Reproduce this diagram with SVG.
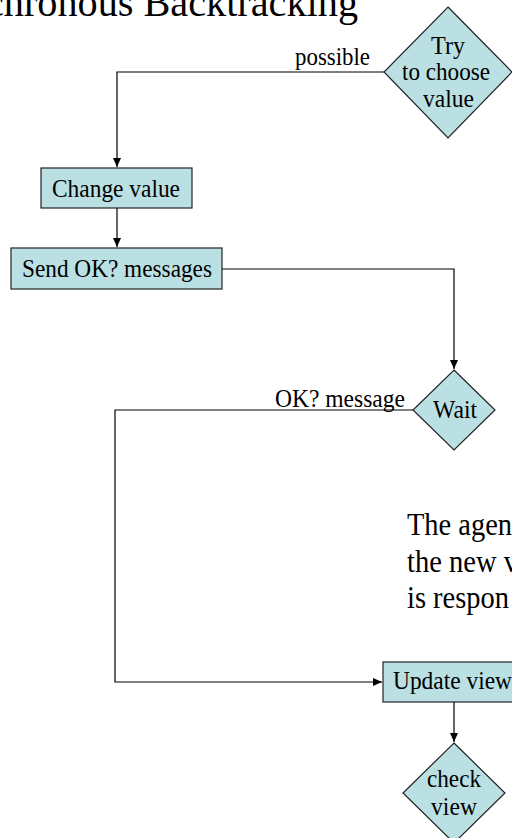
<svg xmlns="http://www.w3.org/2000/svg" width="512" height="838" viewBox="0 0 512 838">
<defs>
<style>
.node{fill:#BBE0E3;stroke:#222;stroke-width:1.2}
.lbl{font-family:"Liberation Serif","Times New Roman",serif;font-size:25.5px;fill:#000}
.conn{fill:none;stroke:#000;stroke-width:1.2}
.big{font-family:"Liberation Serif","Times New Roman",serif;fill:#000}
</style>
<marker id="ah" markerWidth="10" markerHeight="10" refX="9" refY="5" orient="auto" markerUnits="userSpaceOnUse">
<path d="M0,1 L9,5 L0,9 Z" fill="#000"/>
</marker>
</defs>
<rect width="512" height="838" fill="#fff"/>
<text class="big" x="358" y="16" font-size="40" text-anchor="end" textLength="372" lengthAdjust="spacingAndGlyphs">chronous Backtracking</text>
<g id="connectors">
<polyline class="conn" points="384,72 117,72 117,167" marker-end="url(#ah)"/>
<line class="conn" x1="117" y1="208" x2="117" y2="247" marker-end="url(#ah)"/>
<polyline class="conn" points="222,269 454,269 454,369" marker-end="url(#ah)"/>
<polyline class="conn" points="413,410 115,410 115,682 382,682" marker-end="url(#ah)"/>
<line class="conn" x1="454" y1="702" x2="454" y2="742" marker-end="url(#ah)"/>
<text class="lbl" x="295" y="65" textLength="75" lengthAdjust="spacingAndGlyphs">possible</text>
<text class="lbl" x="275" y="407" textLength="130" lengthAdjust="spacingAndGlyphs">OK? message</text>
</g>
<g id="try">
<polygon class="node" points="448,7 512,72 448,138 384,72"/>
<text class="lbl" x="431" y="54" textLength="34" lengthAdjust="spacingAndGlyphs">Try</text>
<text class="lbl" x="402" y="80" textLength="88" lengthAdjust="spacingAndGlyphs">to choose</text>
<text class="lbl" x="423" y="107" textLength="51" lengthAdjust="spacingAndGlyphs">value</text>
</g>
<g id="change">
<rect class="node" x="41" y="168" width="151" height="40"/>
<text class="lbl" x="52" y="197" textLength="128" lengthAdjust="spacingAndGlyphs">Change value</text>
</g>
<g id="send">
<rect class="node" x="11" y="248" width="211" height="41"/>
<text class="lbl" x="22" y="277" textLength="190" lengthAdjust="spacingAndGlyphs">Send OK? messages</text>
</g>
<g id="wait">
<polygon class="node" points="454,370 495,410 454,450 413,410"/>
<text class="lbl" x="433" y="418" textLength="44" lengthAdjust="spacingAndGlyphs">Wait</text>
</g>
<g id="note">
<text class="big" font-size="31" x="407" y="535" textLength="105" lengthAdjust="spacingAndGlyphs">The agen</text>
<text class="big" font-size="31" x="407" y="572" textLength="111" lengthAdjust="spacingAndGlyphs">the new v</text>
<text class="big" font-size="31" x="407" y="608" textLength="102" lengthAdjust="spacingAndGlyphs">is respon</text>
</g>
<g id="update">
<rect class="node" x="383" y="662" width="145" height="40"/>
<text class="lbl" x="393" y="689" textLength="119" lengthAdjust="spacingAndGlyphs">Update view</text>
</g>
<g id="check">
<polygon class="node" points="454,743 505,793 454,843 403,793"/>
<text class="lbl" x="427" y="787" textLength="54" lengthAdjust="spacingAndGlyphs">check</text>
<text class="lbl" x="431" y="815" textLength="46" lengthAdjust="spacingAndGlyphs">view</text>
</g>
</svg>
